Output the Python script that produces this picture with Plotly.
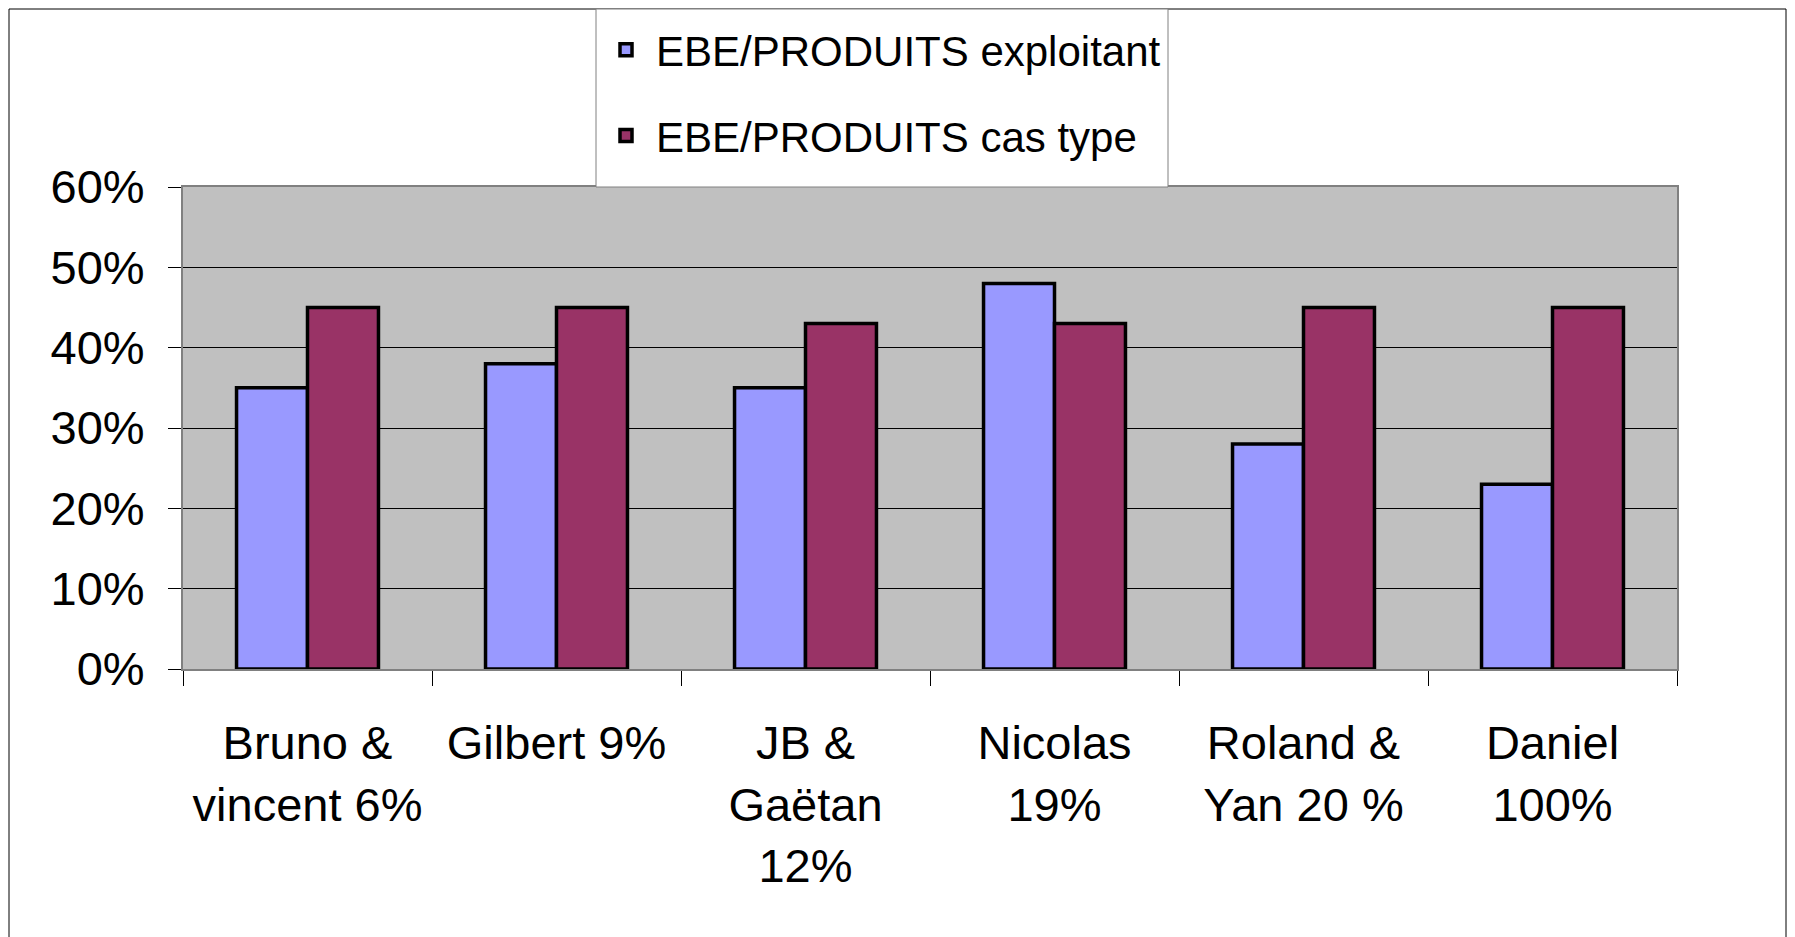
import plotly.graph_objects as go

categories = ["Bruno &<br>vincent 6%", "Gilbert 9%", "JB &<br>Gaëtan<br>12%",
              "Nicolas<br>19%", "Roland &<br>Yan 20 %", "Daniel<br>100%"]
exploitant = [0.35, 0.38, 0.35, 0.48, 0.28, 0.23]
cas_type = [0.45, 0.45, 0.43, 0.43, 0.45, 0.45]
series_names = ["EBE/PRODUITS exploitant", "EBE/PRODUITS cas type"]
y_ticks = [0, 0.1, 0.2, 0.3, 0.4, 0.5, 0.6]

FONT = "Liberation Sans, Arial, sans-serif"
OFF = 8  # default page body margin
W, H = 1795, 937
L, R, T, B = 183 - OFF, 1677 - OFF, 187 - OFF, 669 - OFF

fig = go.Figure()
fig.add_trace(go.Bar(x=categories, y=exploitant, name=series_names[0],
                     marker=dict(color="#9999FF", line=dict(color="black", width=3.5)),
                     legendgroup="a"))
fig.add_trace(go.Bar(x=categories, y=cas_type, name=series_names[1],
                     marker=dict(color="#993366", line=dict(color="black", width=3.5)),
                     legendgroup="b"))

pw, ph = R - L, B - T
def px_x(v):
    return (v - L) / pw
def px_y(v):
    return (B - v) / ph

fig.update_layout(
    width=W, height=H,
    margin=dict(l=L, r=W - R, t=T, b=H - B, autoexpand=False),
    paper_bgcolor="white",
    plot_bgcolor="#C0C0C0",
    barmode="group",
    bargap=0.43,
    bargroupgap=0,
    font=dict(family=FONT, size=47, color="black"),
    showlegend=True,
    legend=dict(x=px_x(596 - OFF), y=px_y(16 - OFF), xanchor="left", yanchor="top",
                bgcolor="rgba(255,255,255,0)", borderwidth=0,
                font=dict(size=42), tracegroupgap=28, traceorder="grouped",
                itemwidth=50),
    xaxis=dict(showgrid=False, ticks="outside", tickson="boundaries", ticklen=15,
               tickcolor="black", showline=True, linecolor="#808080", linewidth=2,
               mirror=True, ticklabelstandoff=32, tickangle=0),
    yaxis=dict(range=[0, 0.6], tickvals=y_ticks, tickformat=".0%",
               showgrid=True, gridcolor="black", gridwidth=1,
               ticks="outside", ticklen=13, tickcolor="black",
               showline=True, linecolor="#808080", linewidth=2, mirror=True,
               zeroline=False, ticklabelstandoff=14),
    shapes=[
        dict(type="rect", xref="paper", yref="paper",
             x0=px_x(1), x1=px_x(1786 - OFF), y0=px_y(1000), y1=px_y(1),
             line=dict(color="black", width=1), fillcolor="rgba(0,0,0,0)",
             layer="below"),
        dict(type="rect", xref="paper", yref="paper",
             x0=px_x(596 - OFF), x1=px_x(1168 - OFF), y0=px_y(187 - OFF), y1=px_y(1),
             line=dict(color="#808080", width=1), fillcolor="white",
             layer="above"),
    ],
)

fig.write_html("out.html")
